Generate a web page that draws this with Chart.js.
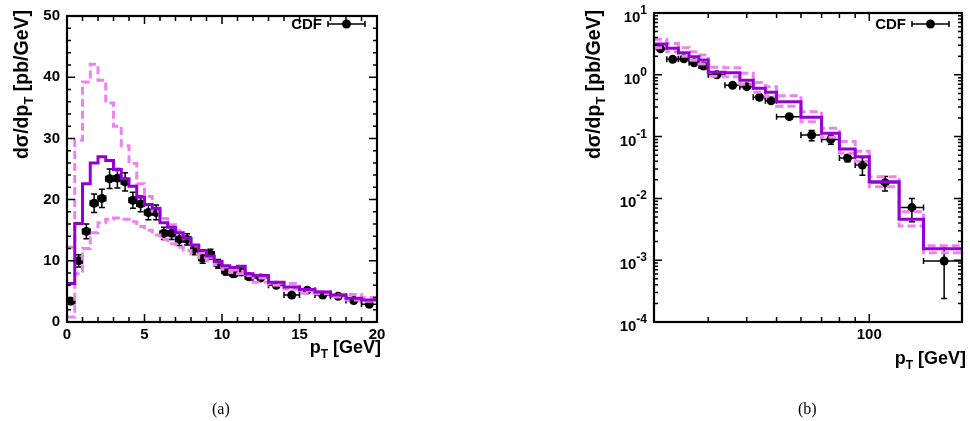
<!DOCTYPE html>
<html>
<head>
<meta charset="utf-8">
<script src="https://cdn.jsdelivr.net/npm/chart.js@4.4.0/dist/chart.umd.min.js"></script>
<style>
  body { margin: 0; background: #fff; }
  #wrap { position: relative; width: 970px; height: 421px; }
  canvas { position: absolute; top: 0; }
  .cap { position: absolute; top: 400px; font: 16px "Liberation Serif", "Times New Roman", serif; color: #000; }
</style>
</head>
<body>
<div id="wrap">
  <canvas id="low" width="485" height="421" style="left:0"></canvas>
  <canvas id="high" width="485" height="421" style="left:485px"></canvas>
  <div class="cap" style="left:212px">(a)</div>
  <div class="cap" style="left:798px">(b)</div>
</div>
<script>
// ---- panel (a): low pT, linear axes ----
const lowEdges = [0, 0.5, 1, 1.5, 2, 2.5, 3, 3.5, 4, 4.5, 5, 5.5, 6, 6.5, 7, 7.5, 8, 8.5, 9, 9.5, 10, 10.5, 11, 11.5, 12, 13, 14, 15, 16, 17, 18, 19, 20];
const lowCentral = [6.3, 16.1, 22.6, 26.0, 27.0, 26.4, 24.9, 23.4, 22.2, 20.4, 19.2, 18.6, 16.2, 15.5, 14.6, 13.7, 12.6, 11.7, 10.8, 9.9, 9.2, 8.9, 9.1, 7.9, 7.6, 6.5, 5.7, 5.3, 4.9, 4.4, 3.9, 3.6];
const lowUpper = [12.2, 29.7, 39.2, 42.1, 39.5, 35.8, 32.0, 28.8, 25.9, 22.6, 20.5, 18.1, 16.9, 15.9, 14.9, 13.6, 12.4, 11.3, 10.6, 9.8, 9.0, 8.5, 8.3, 7.8, 7.2, 6.4, 6.3, 5.1, 5.0, 4.4, 4.5, 4.0];
const lowLower = [0.8, 7.9, 12.0, 14.6, 16.2, 16.8, 17.0, 16.8, 16.4, 15.6, 15.0, 14.2, 13.5, 12.8, 12.2, 11.7, 11.1, 10.5, 10.0, 9.4, 8.6, 8.1, 7.9, 7.6, 6.5, 6.0, 5.4, 4.7, 4.6, 4.1, 3.6, 3.4];
// CDF points share the theory binning
const lowCdf = [3.4, 10.0, 14.8, 19.4, 20.2, 23.4, 23.5, 22.9, 19.9, 19.3, 17.9, 17.9, 14.5, 14.5, 13.5, 13.5, 11.8, 10.4, 11.1, 9.5, 8.3, 7.9, 8.2, 7.4, 7.2, 6.0, 4.4, 5.2, 4.4, 4.2, 3.5, 2.9];
const lowCdfErr = [0.4, 1.0, 1.2, 1.5, 1.5, 1.6, 1.6, 1.5, 1.3, 1.3, 1.2, 1.2, 1.0, 1.0, 1.0, 0.9, 0.8, 0.8, 0.8, 0.7, 0.6, 0.6, 0.6, 0.5, 0.4, 0.4, 0.3, 0.3, 0.3, 0.3, 0.3, 0.3];
const lowXLabels = [0, 5, 10, 15, 20];
const lowYLabels = [0, 10, 20, 30, 40, 50];

// ---- panel (b): high pT, log axes ----
const highEdges = [20, 22, 24, 26, 28, 30, 34, 38, 42, 46, 50, 60, 70, 80, 90, 100, 125, 150, 200];
const highCentral = [3.15, 2.68, 2.28, 1.96, 1.73, 1.10, 1.08, 0.815, 0.604, 0.52, 0.367, 0.205, 0.113, 0.063, 0.047, 0.0186, 0.00459, 0.00153];
const highUpper = [3.75, 3.2, 2.75, 2.35, 2.1, 1.33, 1.3, 1.06, 0.75, 0.64, 0.46, 0.253, 0.136, 0.083, 0.058, 0.0224, 0.0061, 0.00172];
const highLower = [2.75, 2.35, 2.0, 1.72, 1.5, 0.95, 0.93, 0.70, 0.52, 0.45, 0.31, 0.174, 0.098, 0.054, 0.040, 0.0155, 0.00357, 0.00132];
const highCdf = [2.64, 1.78, 1.82, 1.57, 1.39, 1.0, 0.676, 0.643, 0.433, 0.381, 0.21, 0.106, 0.090, 0.045, 0.0347, 0.0179, 0.0071, 0.00097];
const highCdfErr = [0.15, 0.1, 0.1, 0.09, 0.08, 0.06, 0.05, 0.05, 0.04, 0.035, 0.02, 0.02, 0.015, 0.006, 0.011, 0.0047, 0.0029, 0.00073];
const highXLabels = [100];
const highYLabels = [-4, -3, -2, -1, 0, 1]; // powers of ten

const FONT = '"Liberation Sans", Arial, Helvetica, sans-serif';
const PURPLE = '#9400d3';
const VIOLET = '#ee82ee';

function steps(edges, vals) {
  return edges.map((e, i) => ({ x: e, y: vals[Math.min(i, vals.length - 1)] }));
}
function centers(edges, vals) {
  return vals.map((v, i) => ({ x: (edges[i] + edges[i + 1]) / 2, y: v }));
}

function histo(edges, vals, color, dash) {
  return {
    type: 'line',
    data: steps(edges, vals),
    stepped: true,
    borderColor: color,
    borderWidth: 3,
    borderDash: dash,
    pointRadius: 0,
    fill: false,
  };
}

// text with a subscript piece: parts = [[text, shift]]
function drawParts(ctx, parts, x, y, align, size) {
  const fonts = parts.map(p => `bold ${p[1] ? Math.round(size * 0.68) : size}px ${FONT}`);
  let total = 0;
  const widths = parts.map((p, i) => { ctx.font = fonts[i]; const w = ctx.measureText(p[0]).width; total += w; return w; });
  let cx = align === 'right' ? x - total : x;
  ctx.textAlign = 'left';
  ctx.textBaseline = 'alphabetic';
  parts.forEach((p, i) => {
    ctx.font = fonts[i];
    ctx.fillText(p[0], cx, y + p[1] * size);
    cx += widths[i];
  });
}

function framePlugin(cfg) {
  return {
    id: 'frame',
    beforeDatasetDraw(chart, args) {
      if (args.index !== 3) return;
      const { ctx, scales: { x, y } } = chart;
      ctx.save();
      ctx.strokeStyle = '#000';
      ctx.lineWidth = 1.5;
      cfg.vals.forEach((v, i) => {
        const lo = cfg.edges[i], hi = cfg.edges[i + 1];
        const px = x.getPixelForValue((lo + hi) / 2), py = y.getPixelForValue(v);
        const x0 = x.getPixelForValue(lo), x1 = x.getPixelForValue(hi);
        const y0 = y.getPixelForValue(Math.max(v - cfg.errs[i], cfg.yFloor)), y1 = y.getPixelForValue(v + cfg.errs[i]);
        ctx.beginPath();
        ctx.moveTo(x0, py); ctx.lineTo(x1, py);
        ctx.moveTo(x0, py - 3); ctx.lineTo(x0, py + 3);
        ctx.moveTo(x1, py - 3); ctx.lineTo(x1, py + 3);
        ctx.moveTo(px, y0); ctx.lineTo(px, y1);
        ctx.moveTo(px - 3, y0); ctx.lineTo(px + 3, y0);
        ctx.moveTo(px - 3, y1); ctx.lineTo(px + 3, y1);
        ctx.stroke();
      });
      ctx.restore();
    },
    afterDraw(chart) {
      const { ctx, chartArea: a, scales: { x, y } } = chart;
      ctx.save();
      ctx.strokeStyle = '#000';
      ctx.fillStyle = '#000';
      // ticks on all four sides, pointing in
      ctx.lineWidth = 1.5;
      ctx.beginPath();
      cfg.xTicks.forEach(([v, len]) => {
        const px = x.getPixelForValue(v);
        ctx.moveTo(px, a.bottom); ctx.lineTo(px, a.bottom - len);
        ctx.moveTo(px, a.top); ctx.lineTo(px, a.top + len);
      });
      cfg.yTicks.forEach(([v, len]) => {
        const py = y.getPixelForValue(v);
        ctx.moveTo(a.left, py); ctx.lineTo(a.left + len, py);
        ctx.moveTo(a.right, py); ctx.lineTo(a.right - len, py);
      });
      ctx.stroke();
      ctx.lineWidth = 2.2;
      ctx.strokeRect(a.left, a.top, a.right - a.left, a.bottom - a.top);

      // log y labels as 10^n
      if (cfg.powers) {
        cfg.powers.forEach(n => {
          const py = y.getPixelForValue(Math.pow(10, n));
          ctx.font = `bold 12px ${FONT}`;
          const sw = ctx.measureText(String(n)).width;
          ctx.textAlign = 'right';
          ctx.fillText(String(n), a.left - 7, py + 1);
          ctx.font = `bold 15px ${FONT}`;
          ctx.fillText('10', a.left - 7 - sw, py + 9);
        });
      }

      // axis titles
      ctx.save();
      ctx.translate(cfg.yTitle[0], cfg.yTitle[1]);
      ctx.rotate(-Math.PI / 2);
      drawParts(ctx, [['d\u03c3/dp', 0], ['T', 0.28], [' [pb/GeV]', 0]], 0, 0, 'right', 19.5);
      ctx.restore();
      drawParts(ctx, [['p', 0], ['T', 0.28], [' [GeV]', 0]], cfg.xTitle[0], cfg.xTitle[1], 'right', 18);

      // key
      const [kx, ky] = cfg.key;
      ctx.font = `bold 15px ${FONT}`;
      ctx.textAlign = 'right';
      ctx.textBaseline = 'alphabetic';
      ctx.fillText('CDF', kx, ky + 5);
      ctx.lineWidth = 1.5;
      ctx.beginPath();
      ctx.moveTo(kx + 6, ky); ctx.lineTo(kx + 43, ky);
      ctx.moveTo(kx + 6, ky - 3); ctx.lineTo(kx + 6, ky + 3);
      ctx.moveTo(kx + 43, ky - 3); ctx.lineTo(kx + 43, ky + 3);
      ctx.stroke();
      ctx.beginPath();
      ctx.arc(kx + 24.5, ky, 4.5, 0, Math.PI * 2);
      ctx.fill();
      ctx.restore();
    }
  };
}

function axisFont() {
  return { family: FONT, weight: 'bold', size: 15 };
}

// ---------- chart (a) ----------
const lowXTicks = [];
for (let v = 0; v <= 20; v++) lowXTicks.push([v, v % 5 === 0 ? 8 : 5]);
const lowYTicks = [];
for (let v = 0; v <= 50; v += 2) lowYTicks.push([v, v % 10 === 0 ? 8 : 4]);

new Chart(document.getElementById('low'), {
  type: 'scatter',
  data: {
    datasets: [
      histo(lowEdges, lowCentral, PURPLE, []),
      histo(lowEdges, lowUpper, VIOLET, [8, 4]),
      histo(lowEdges, lowLower, VIOLET, [8, 4]),
      {
        data: centers(lowEdges, lowCdf),
        pointRadius: 4.5,
        pointBackgroundColor: '#000',
        pointBorderWidth: 0,
      },
    ],
  },
  options: {
    responsive: false,
    animation: false,
    layout: { padding: { top: 13, right: 485 - 377, left: 0, bottom: 0 } },
    plugins: { legend: { display: false }, tooltip: { enabled: false } },
    scales: {
      x: {
        type: 'linear', min: 0, max: 20,
        afterFit: s => { s.height = 421 - 322; },
        afterBuildTicks: s => { s.ticks = lowXLabels.map(v => ({ value: v })); },
        grid: { display: false, drawTicks: false },
        border: { display: false },
        ticks: { font: axisFont(), color: '#000', padding: 4, maxRotation: 0, autoSkip: false },
      },
      y: {
        type: 'linear', min: 0, max: 50,
        afterFit: s => { s.width = 67; },
        afterBuildTicks: s => { s.ticks = lowYLabels.map(v => ({ value: v })); },
        grid: { display: false, drawTicks: false },
        border: { display: false },
        ticks: { font: axisFont(), color: '#000', padding: 7 },
      },
    },
  },
  plugins: [framePlugin({
    edges: lowEdges, vals: lowCdf, errs: lowCdfErr, yFloor: 0,
    xTicks: lowXTicks, yTicks: lowYTicks,
    yTitle: [28, 10], xTitle: [381, 353], key: [322, 24],
  })],
});

// ---------- chart (b) ----------
const highXTicks = [[30, 5], [40, 5], [50, 5], [60, 5], [70, 5], [80, 5], [90, 5], [100, 8]];
const highYTicks = [];
for (let n = -4; n <= 0; n++) {
  highYTicks.push([Math.pow(10, n), 8]);
  for (let m = 2; m <= 9; m++) highYTicks.push([m * Math.pow(10, n), 4]);
}
highYTicks.push([10, 8]);

new Chart(document.getElementById('high'), {
  type: 'scatter',
  data: {
    datasets: [
      histo(highEdges, highCentral, PURPLE, []),
      histo(highEdges, highUpper, VIOLET, [8, 4]),
      histo(highEdges, highLower, VIOLET, [8, 4]),
      {
        data: centers(highEdges, highCdf),
        pointRadius: 4.5,
        pointBackgroundColor: '#000',
        pointBorderWidth: 0,
      },
    ],
  },
  options: {
    responsive: false,
    animation: false,
    layout: { padding: { top: 13, right: 485 - 477, left: 0, bottom: 0 } },
    plugins: { legend: { display: false }, tooltip: { enabled: false } },
    scales: {
      x: {
        type: 'logarithmic', min: 20, max: 200,
        afterFit: s => { s.height = 421 - 322; },
        afterBuildTicks: s => { s.ticks = highXLabels.map(v => ({ value: v })); },
        grid: { display: false, drawTicks: false },
        border: { display: false },
        ticks: { font: axisFont(), color: '#000', padding: 4, maxRotation: 0, autoSkip: false, callback: v => String(v) },
      },
      y: {
        type: 'logarithmic', min: 1e-4, max: 10,
        afterFit: s => { s.width = 169; },
        grid: { display: false, drawTicks: false },
        border: { display: false },
        ticks: { display: false },
      },
    },
  },
  plugins: [framePlugin({
    edges: highEdges, vals: highCdf, errs: highCdfErr, yFloor: 1e-4,
    xTicks: highXTicks, yTicks: highYTicks, powers: highYLabels,
    yTitle: [115, 10], xTitle: [481, 364], key: [421, 24],
  })],
});
</script>
</body>
</html>
